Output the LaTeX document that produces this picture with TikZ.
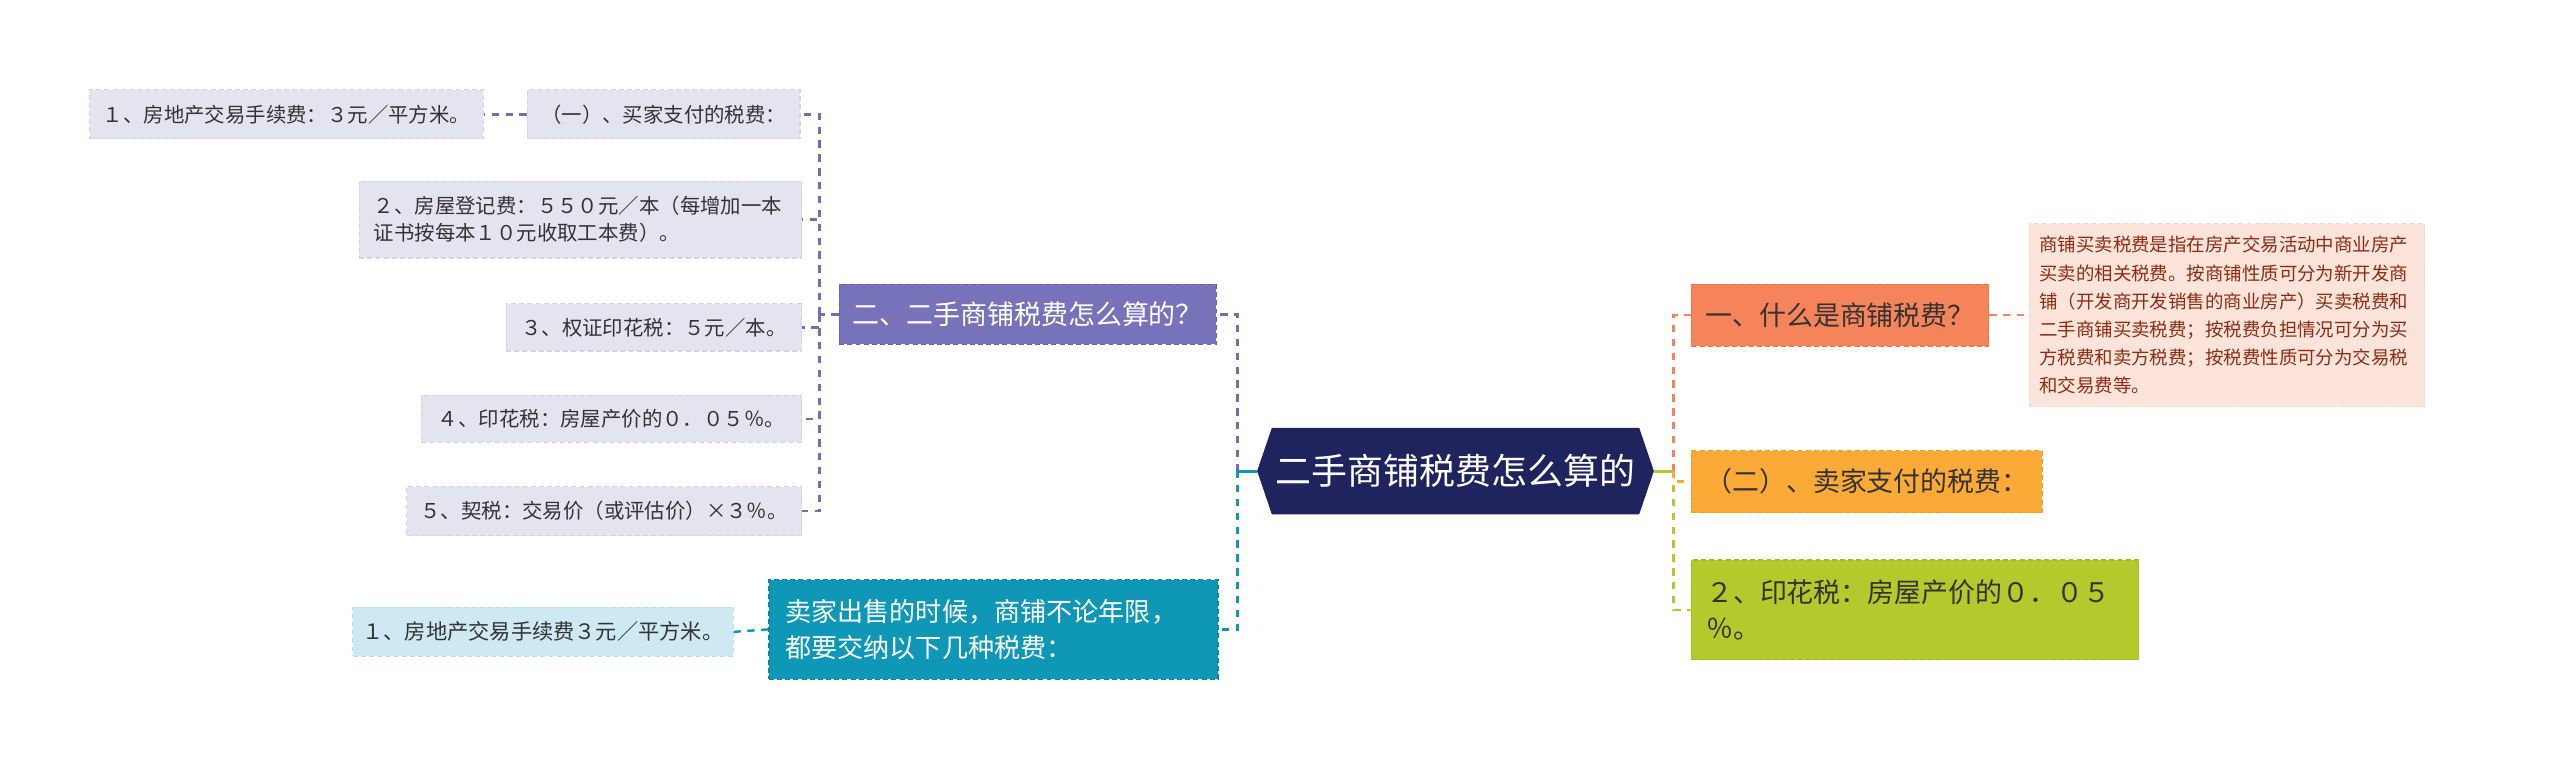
\documentclass[tikz,border=0pt]{standalone}
\usepackage{fontspec}
\setmainfont{Noto Sans CJK SC}
\definecolor{leaf}{HTML}{E4E3F0}
\definecolor{leafd}{HTML}{D4D2E8}
\definecolor{purp}{HTML}{7673BA}
\definecolor{purpd}{HTML}{6461A8}
\definecolor{purpl}{HTML}{716EB6}
\definecolor{tealc}{HTML}{0E97B7}
\definecolor{teald}{HTML}{0B84A2}
\definecolor{lblue}{HTML}{CEE9F1}
\definecolor{lblued}{HTML}{B9DEEA}
\definecolor{navy}{HTML}{1F245F}
\definecolor{coral}{HTML}{F6845A}
\definecolor{corald}{HTML}{E8744A}
\definecolor{pinkbg}{HTML}{FCE4DA}
\definecolor{pinkd}{HTML}{F7D8CB}
\definecolor{brownt}{HTML}{8C2C12}
\definecolor{amber}{HTML}{FBAA38}
\definecolor{amberd}{HTML}{F29A22}
\definecolor{lime}{HTML}{B4C92B}
\definecolor{limed}{HTML}{A3B823}
\definecolor{txt}{HTML}{333333}
\tikzset{
  box/.style={rectangle, inner sep=0pt, dash pattern=on 3pt off 2pt, line width=0.7pt},
  leafbox/.style={box, fill=leaf, draw=leafd, text=txt, font=\fontsize{12.5}{16.5}\selectfont},
  bluebox/.style={box, fill=lblue, draw=lblued, text=txt, font=\fontsize{13}{16.5}\selectfont},
  mainbox/.style={box, font=\fontsize{16.5}{22}\selectfont},
  conn/.style={dash pattern=on 4.5pt off 4pt, line width=1.5pt},
  stub/.style={line width=1.8pt},
}
\begin{document}
\begin{tikzpicture}[x=1pt,y=-1pt]
\useasboundingbox (0,0) rectangle (1568,472);
\fill[white] (0,0) rectangle (1568,472);

% root
\node[minimum width=243pt, minimum height=53pt, inner sep=0pt, text=white,
      font=\fontsize{22}{26}\selectfont,
      path picture={\fill[navy] ([xshift=9pt]path picture bounding box.north west)
        -- (path picture bounding box.west)
        -- ([xshift=9pt]path picture bounding box.south west)
        -- ([xshift=-9pt]path picture bounding box.south east)
        -- (path picture bounding box.east)
        -- ([xshift=-9pt]path picture bounding box.north east) -- cycle;}]
  (R) at (891.5,288.5) {二手商铺税费怎么算的};

% left side
\node[mainbox, fill=purp, draw=purpd, text=white, minimum width=231pt, minimum height=37pt]
  (P) at (629.5,192.5) {二、二手商铺税费怎么算的？};
\node[mainbox, fill=tealc, draw=teald, text=white, minimum height=61pt,
      text width=255pt, inner xsep=10pt, align=left, font=\fontsize{16}{22}\selectfont]
  (T) at (608.5,385.5) {卖家出售的时候，商铺不论年限，\\都要交纳以下几种税费：};
\node[bluebox, minimum width=233pt, minimum height=30pt]
  (LB) at (332.5,387) {１、房地产交易手续费３元／平方米。};

\node[leafbox, minimum width=241pt, minimum height=30pt]
  (n1a) at (175.5,70) {１、房地产交易手续费：３元／平方米。};
\node[leafbox, minimum width=167pt, minimum height=30pt]
  (n1b) at (406.5,70) {（一）、买家支付的税费：};
\node[leafbox, minimum height=47pt, text width=253pt, inner xsep=9pt, align=left]
  (n2) at (355.5,134.5) {２、房屋登记费：５５０元／本（每增加一本\\证书按每本１０元收取工本费）。};
\node[leafbox, minimum width=181pt, minimum height=29pt]
  (n3) at (400.5,200.5) {３、权证印花税：５元／本。};
\node[leafbox, minimum width=233pt, minimum height=29pt]
  (n4) at (374.5,256.5) {４、印花税：房屋产价的０．０５％。};
\node[leafbox, minimum width=242pt, minimum height=30pt]
  (n5) at (370,313) {５、契税：交易价（或评估价）×３％。};

% right side
\node[mainbox, fill=coral, draw=corald, text=txt, minimum width=182pt, minimum height=38pt]
  (O) at (1127,193) {一、什么是商铺税费？};
\node[box, fill=pinkbg, draw=pinkd, text=brownt, minimum height=112pt,
      text width=230pt, inner xsep=6pt, align=left, font=\fontsize{11.3}{17.2}\selectfont]
  (D) at (1364,193) {商铺买卖税费是指在房产交易活动中商业房产\\买卖的相关税费。按商铺性质可分为新开发商\\铺（开发商开发销售的商业房产）买卖税费和\\二手商铺买卖税费；按税费负担情况可分为买\\方税费和卖方税费；按税费性质可分为交易税\\和交易费等。};
\node[mainbox, fill=amber, draw=amberd, text=txt, minimum width=215pt, minimum height=38pt]
  (Y) at (1143.5,295) {（二）、卖家支付的税费：};
\node[mainbox, fill=lime, draw=limed, text=txt, minimum height=61pt,
      text width=256pt, inner xsep=9pt, align=left]
  (G) at (1173,373.5) {２、印花税：房屋产价的０．０５\\％。};

% connectors
\coordinate (rL) at (758,288.5);
\coordinate (rR) at (1025,288.5);
\coordinate (pL) at (502,192.5);

\draw[conn, purpl] (rL) |- (P.east);
\draw[conn, tealc] (rL) |- (T.east);
\draw[stub, tealc] (R.west) -- (rL);
\draw[conn, coral] (rR) |- (O.west);
\draw[conn, lime] (rR) |- (G.west);
\draw[conn, amber] (rR) |- (Y.west);
\draw[stub, lime] (R.east) -- (rR);
\draw[conn, coral] (O.east) -- (D.west);
\draw[conn, tealc] (T.west) -- (LB.east);

\draw[conn, purpl] (P.west) -- (pL);
\draw[conn, purpl] (pL) |- (n1b.east);
\draw[conn, purpl] (pL) |- (n2.east);
\draw[conn, purpl] (pL) |- (n3.east);
\draw[conn, purpl] (pL) |- (n4.east);
\draw[conn, purpl] (pL) |- (n5.east);
\draw[conn, purpl] (n1b.west) -- (n1a.east);
\end{tikzpicture}
\end{document}
